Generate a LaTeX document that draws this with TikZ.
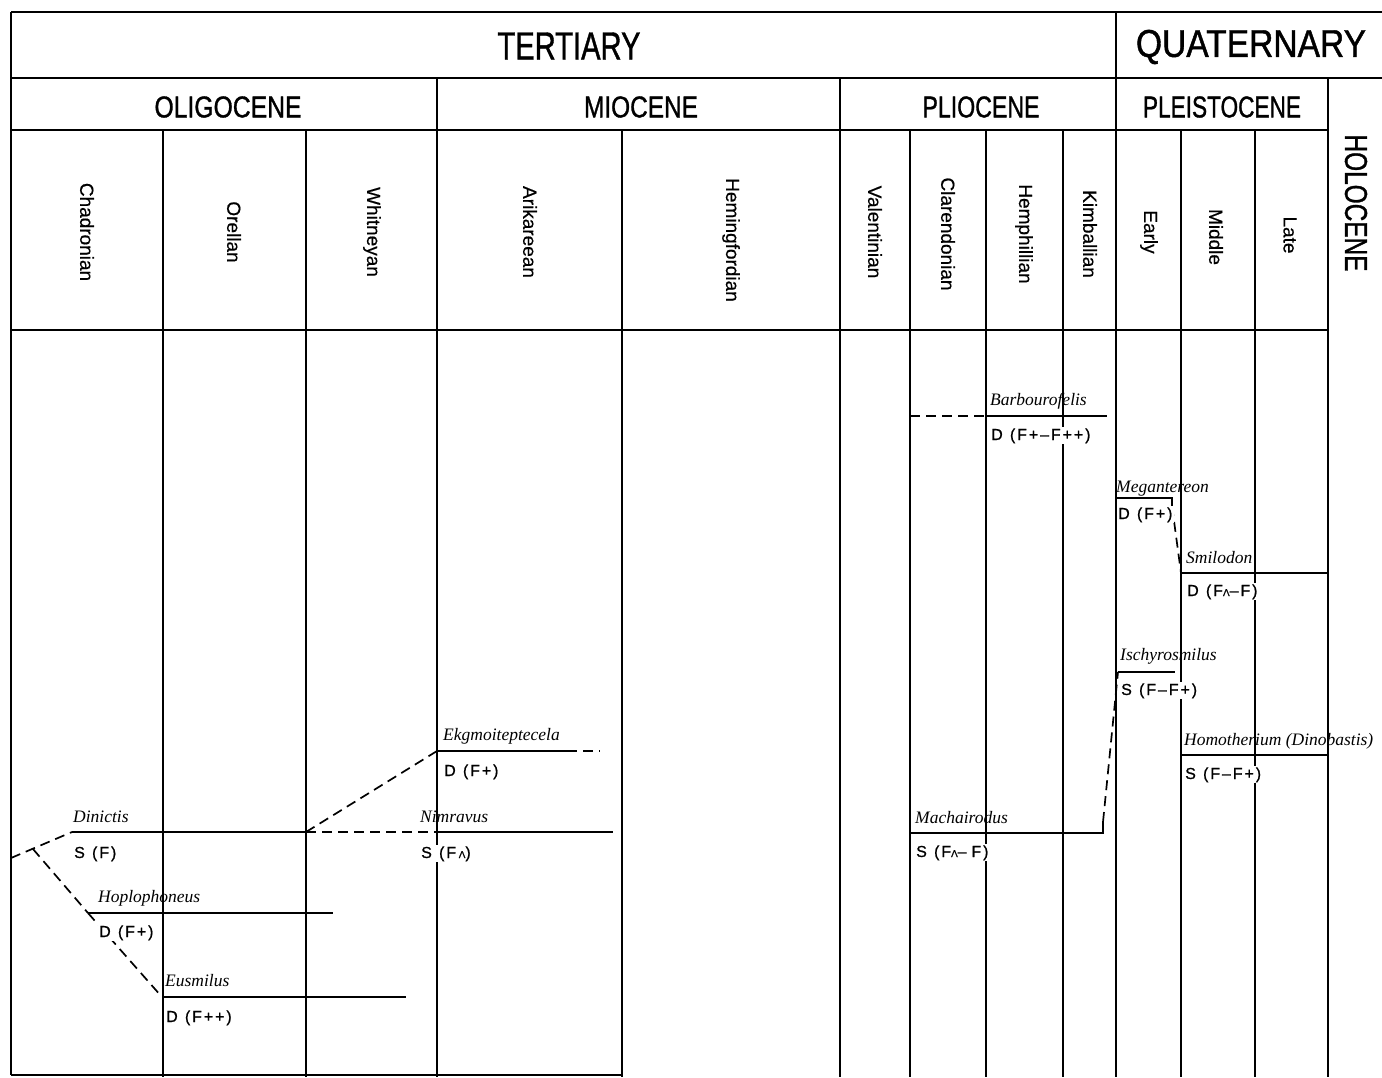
\documentclass[tikz,border=0pt]{standalone}
\usepackage{fontspec}
\usepackage{graphicx}
\setmainfont{Liberation Sans}
\newfontfamily\headfont[FakeBold=1.2]{Liberation Sans}
\newfontfamily\stagefont[FakeBold=0.5]{Liberation Sans}
\newfontfamily\genusfont{Liberation Serif}
\newfontfamily\codefont[LetterSpace=12,FakeBold=0.8]{Liberation Sans}
\newcommand{\smlam}{{\fontsize{10}{10}\selectfont Λ}}
\begin{document}
\begin{tikzpicture}[x=1pt,y=-1pt,
  grid/.style={line width=1.3pt},
  branch/.style={line width=1.6pt},
  thinbranch/.style={line width=1.2pt},
  dashbranch/.style={line width=1.7pt, dash pattern=on 10pt off 6pt},
  stage/.style={rotate=-90, font=\stagefont\fontsize{19}{19}\selectfont, inner sep=0pt},
  genus/.style={anchor=base west, font=\genusfont\itshape\fontsize{17.5}{17.5}\selectfont, inner sep=0pt},
  code/.style={anchor=base west, font=\codefont\fontsize{16}{16}\selectfont, inner sep=1pt, fill=white},
  head/.style={inner sep=0pt, font=\headfont}]
\useasboundingbox (0,0) rectangle (1382,1077);
% ---------- frame ----------
\draw[grid] (11,12) -- (1382,12);
\draw[grid] (11,78) -- (1382,78);
\draw[grid] (11,130) -- (1328,130);
\draw[grid] (11,330) -- (1328,330);
\draw[grid] (11,12) -- (11,1075);
\draw[grid] (11,1075) -- (622,1075);
\draw[grid] (1116,12) -- (1116,1077);
\draw[grid] (1328,78) -- (1328,1077);
\foreach \x in {437,840} \draw[grid] (\x,78) -- (\x,1077);
\foreach \x in {163,306,622,910,986,1063,1181,1255} \draw[grid] (\x,130) -- (\x,1077);
% ---------- headings ----------
\node[head] (tert) at (569,46) {\resizebox{143pt}{27pt}{TERTIARY}};
\node[head] (quat) at (1251,47) {\resizebox{230pt}{27pt}{QUATERNARY}};
\node[head] (olig) at (228,107) {\resizebox{147pt}{21pt}{OLIGOCENE}};
\node[head] (mioc) at (641,107) {\resizebox{114pt}{21pt}{MIOCENE}};
\node[head] (plio) at (981,107) {\resizebox{117pt}{21pt}{PLIOCENE}};
\node[head] (plei) at (1222,107) {\resizebox{158pt}{21pt}{PLEISTOCENE}};
\node[head, rotate=-90] (holo) at (1356,203) {\resizebox{137pt}{22pt}{HOLOCENE}};
% ---------- stages ----------
\node[stage] (s1) at (87,232) {Chadronian};
\node[stage] (s2) at (234,232) {Orellan};
\node[stage] (s3) at (372,232) {Whitneyan};
\node[stage] (s4) at (530,232) {Arikareean};
\node[stage] (s5) at (731,240) {Hemingfordian};
\node[stage] (s6) at (875,232) {Valentinian};
\node[stage] (s7) at (948,234) {Clarendonian};
\node[stage] (s8) at (1024,234) {Hemphillian};
\node[stage] (s9) at (1090,234) {Kimballian};
\node[stage] (s10) at (1149,232) {Early};
\node[stage] (s11) at (1216,237) {Middle};
\node[stage] (s12) at (1290,235) {Late};
% ---------- branch points ----------
\coordinate (root) at (11,858);
\coordinate (fork) at (33,849);
\coordinate (dinS) at (72,832);
\coordinate (dinE) at (306,832);
\coordinate (nimS) at (437,832);
\coordinate (nimE) at (613,832);
\coordinate (ekgS) at (437,751);
\coordinate (ekgM) at (567,751);
\coordinate (ekgE) at (600,751);
\coordinate (hopS) at (88,913);
\coordinate (hopE) at (333,913);
\coordinate (eusS) at (162,997);
\coordinate (eusE) at (406,997);
\coordinate (barD) at (910,416);
\coordinate (barS) at (986,416);
\coordinate (barE) at (1107,416);
\coordinate (megS) at (1116,498);
\coordinate (megE) at (1172,498);
\coordinate (megC) at (1172,506);
\coordinate (smiS) at (1181,573);
\coordinate (smiE) at (1328,573);
\coordinate (iscS) at (1118,672);
\coordinate (iscE) at (1175,672);
\coordinate (macS) at (911,833);
\coordinate (macE) at (1103,833);
\coordinate (macC) at (1103,822);
\coordinate (homS) at (1181,755);
\coordinate (homE) at (1328,755);
% ---------- branches ----------
\draw[dashbranch] (root) -- (dinS);
\draw[branch] (dinS) -- (dinE);
\draw[dashbranch] (dinE) -- (nimS);
\draw[branch] (nimS) -- (nimE);
\draw[dashbranch] (dinE) -- (ekgS);
\draw[branch] (ekgS) -- (ekgM);
\draw[dashbranch] (ekgM) -- (ekgE);
\draw[dashbranch] (fork) -- (hopS);
\draw[branch] (hopS) -- (hopE);
\draw[dashbranch] (hopS) -- (eusS);
\draw[branch] (eusS) -- (eusE);
\draw[dashbranch] (barD) -- (barS);
\draw[branch] (barS) -- (barE);
\draw[branch] (megS) -- (megE) -- (megC);
\draw[dashbranch] (megC) -- (smiS);
\draw[branch] (smiS) -- (smiE);
\draw[branch] (macS) -- (macE) -- (macC);
\draw[dashbranch] (macC) -- (iscS);
\draw[thinbranch] (iscS) -- (iscE);
\draw[branch] (homS) -- (homE);
% ---------- labels ----------
\node[genus] (dinL) at (73,822) {Dinictis};
\node[code] (dinC) at (73,858) {S\hspace{0.45em}(F)};
\node[genus] (nimL) at (420,822) {Nimravus};
\node[code] (nimC) at (420,858) {S\hspace{0.45em}(F\,\smlam)};
\node[genus] (ekgL) at (443,740) {Ekgmoiteptecela};
\node[code] (ekgC) at (443,776) {D\hspace{0.45em}(F+)};
\node[genus] (hopL) at (98,902) {Hoplophoneus};
\node[code] (hopC) at (98,937) {D\hspace{0.45em}(F+)};
\node[genus] (eusL) at (165,986) {Eusmilus};
\node[code] (eusC) at (165,1022) {D\hspace{0.45em}(F++)};
\node[genus] (barL) at (990,405) {Barbourofelis};
\node[code] (barC) at (990,440) {D\hspace{0.45em}(F+–F++)};
\node[genus] (megL) at (1116,492) {Megantereon};
\node[code] (megC2) at (1117,519) {D\hspace{0.45em}(F+)};
\node[genus] (smiL) at (1186,563) {Smilodon};
\node[code] (smiC) at (1186,596) {D\hspace{0.45em}(F\smlam–F)};
\node[genus] (iscL) at (1120,660) {Ischyrosmilus};
\node[code] (iscC) at (1120,695) {S\hspace{0.45em}(F–F+)};
\node[genus] (macL) at (915,823) {Machairodus};
\node[code] (macC2) at (915,857) {S\hspace{0.45em}(F\smlam–\hspace{0.3em}F)};
\node[genus] (homL) at (1184,745) {Homotherium (Dinobastis)};
\node[code] (homC) at (1184,779) {S\hspace{0.45em}(F–F+)};
\end{tikzpicture}
\end{document}
